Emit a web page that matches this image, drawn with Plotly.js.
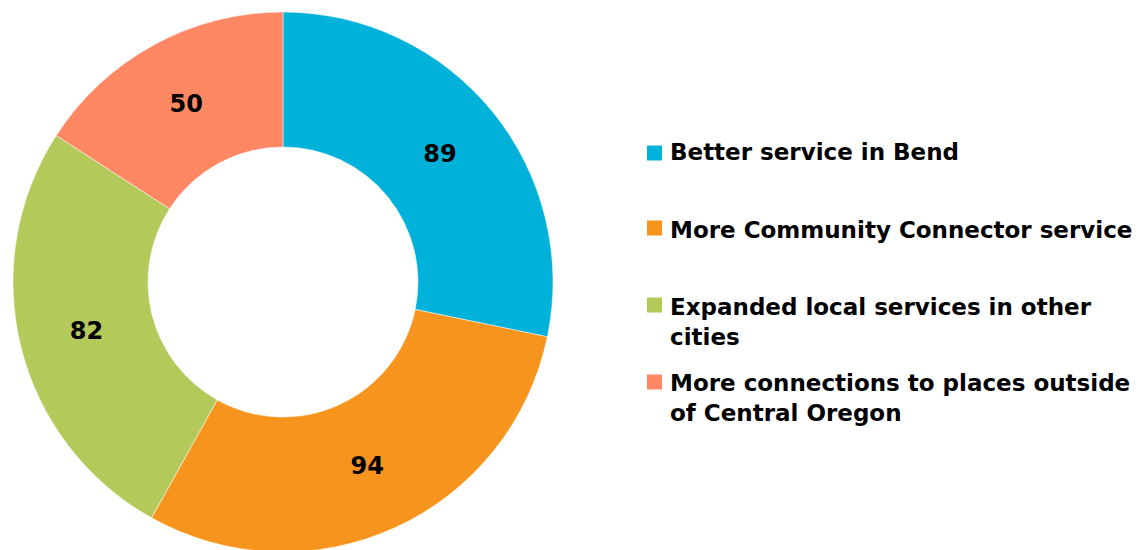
<!DOCTYPE html>
<html>
<head>
<meta charset="utf-8">
<script src="https://cdn.plot.ly/plotly-3.0.1.min.js"></script>
<style>
html,body{margin:0;padding:0;background:#fff;overflow:hidden;}
#chart{width:1138px;height:556px;}
</style>
</head>
<body>
<div id="chart"></div>
<script>
// ---- data ----
const categories = [
  "Better service in Bend",
  "More Community Connector service",
  "Expanded local services in other<br>cities",
  "More connections to places outside<br>of Central Oregon"
];
const values = [89, 94, 82, 50];
const colors = ["#00B2DA", "#F7941E", "#B3C95A", "#FF8864"];

// ---- layout helpers ----
const W = 1138, H = 556;
const px = x => x / W;
const py = y => (H - y) / H;

const FONT = "DejaVu Sans, Liberation Sans, sans-serif";

// custom legend positions (first-line centre of each entry, in pixels)
const legendSquareY = [153, 228, 305, 382];
const legendTextY = [152, 229.5, 321.7, 398.3];

const shapes = categories.map((c, i) => ({
  type: "rect", xref: "paper", yref: "paper",
  x0: px(647), x1: px(662),
  y0: py(legendSquareY[i] - 7.5), y1: py(legendSquareY[i] + 7.5),
  fillcolor: colors[i], line: {width: 0}
}));

const annotations = categories.map((c, i) => ({
  xref: "paper", yref: "paper",
  x: px(668), y: py(legendTextY[i]),
  xanchor: "left", yanchor: "middle", align: "left",
  showarrow: false, text: c,
  font: {family: FONT, size: 23, color: "#000000", weight: "bold"}
}));

const trace = {
  type: "pie",
  labels: categories,
  values: values,
  hole: 0.5,
  sort: false,
  direction: "clockwise",
  rotation: 0,
  marker: {colors: colors, line: {color: "#ffffff", width: 0.5}},
  textinfo: "value",
  textposition: "inside",
  insidetextorientation: "horizontal",
  textfont: {family: FONT, size: 24, color: "#000000", weight: "bold"},
  domain: {x: [px(13), px(553)], y: [py(552), py(12)]},
  showlegend: false,
  hoverinfo: "label+value"
};

const layout = {
  width: W, height: H,
  margin: {l: 0, r: 0, t: 0, b: 0},
  paper_bgcolor: "#ffffff",
  showlegend: false,
  shapes: shapes,
  annotations: annotations
};

Plotly.newPlot("chart", [trace], layout, {displayModeBar: false, staticPlot: true});
</script>
</body>
</html>
